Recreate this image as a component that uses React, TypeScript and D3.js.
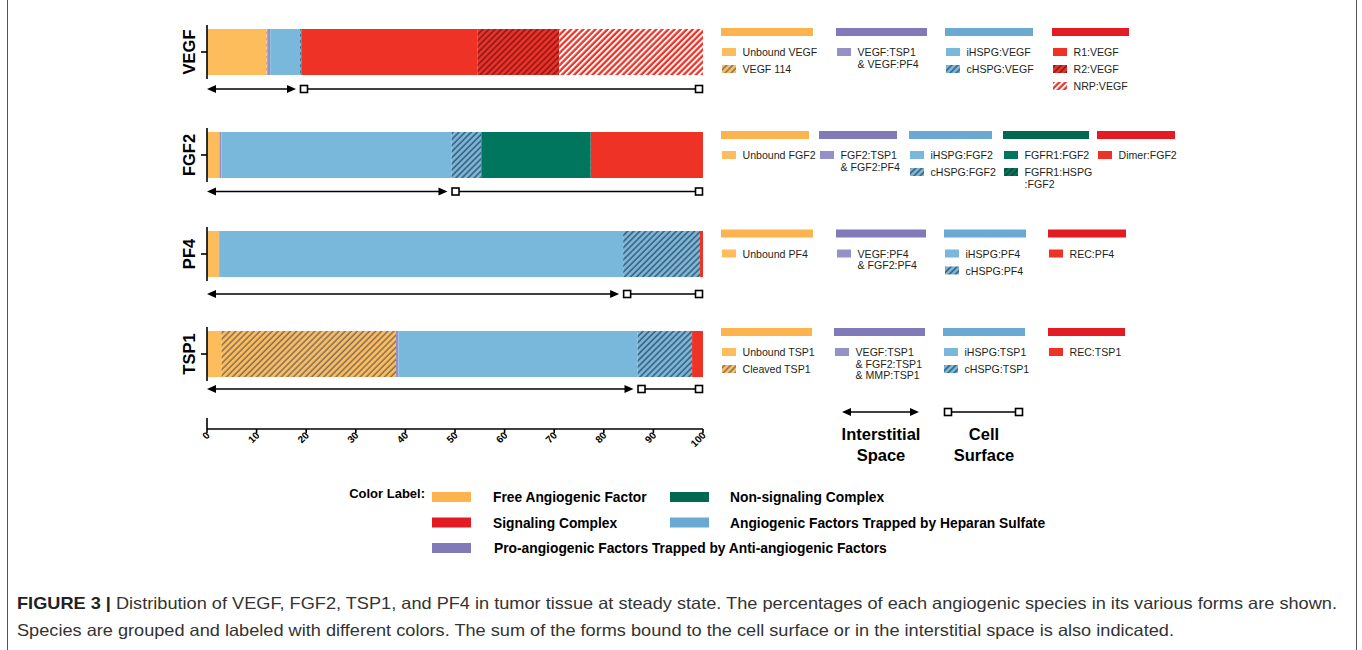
import React from "react";
import * as d3 from "d3";

// ---------- DATA ----------
const species = ["VEGF", "FGF2", "PF4", "TSP1"];

// segment values (% of each species), in stacking order
const vegfValues = [12, 0.15, 0.6, 6, 0.25, 35.5, 16.5, 29];
const vegfFills = ["orange", "orangeH", "purple", "blue", "blueH", "red", "redH", "redW"];
const vegfSites = ["I", "I", "I", "I", "C", "C", "C", "C"];

const fgf2Values = [2.5, 0.4, 46.4, 6, 22, 0.1, 22.6];
const fgf2Fills = ["orange", "purple", "blue", "blueH", "green", "greenH", "red"];
const fgf2Sites = ["I", "I", "I", "C", "C", "C", "C"];

const pf4Values = [2.4, 0.05, 81.45, 15.5, 0.6];
const pf4Fills = ["orange", "purple", "blue", "blueH", "red"];
const pf4Sites = ["I", "I", "I", "C", "C"];

const tsp1Values = [2.9, 35.2, 0.5, 48.2, 11, 2.2];
const tsp1Fills = ["orange", "orangeH", "purple", "blue", "blueH", "red"];
const tsp1Sites = ["I", "I", "I", "I", "C", "C"];

const axisTicks = [0, 10, 20, 30, 40, 50, 60, 70, 80, 90, 100];

// legend labels per species (columns -> items)
const vegfLegend = [["Unbound VEGF", "VEGF 114"], ["VEGF:TSP1\n& VEGF:PF4"], ["iHSPG:VEGF", "cHSPG:VEGF"], ["R1:VEGF", "R2:VEGF", "NRP:VEGF"]];
const vegfLegendFills = [["orange", "orangeH"], ["purple"], ["blue", "blueH"], ["red", "redH", "redW"]];
const vegfHeaders = ["orange", "purple", "blue", "red"];

const fgf2Legend = [["Unbound FGF2"], ["FGF2:TSP1\n& FGF2:PF4"], ["iHSPG:FGF2", "cHSPG:FGF2"], ["FGFR1:FGF2", "FGFR1:HSPG\n:FGF2"], ["Dimer:FGF2"]];
const fgf2LegendFills = [["orange"], ["purple"], ["blue", "blueH"], ["green", "greenH"], ["red"]];
const fgf2Headers = ["orange", "purple", "blue", "green", "red"];

const pf4Legend = [["Unbound PF4"], ["VEGF:PF4\n& FGF2:PF4"], ["iHSPG:PF4", "cHSPG:PF4"], ["REC:PF4"]];
const pf4LegendFills = [["orange"], ["purple"], ["blue", "blueH"], ["red"]];
const pf4Headers = ["orange", "purple", "blue", "red"];

const tsp1Legend = [["Unbound TSP1", "Cleaved TSP1"], ["VEGF:TSP1\n& FGF2:TSP1\n& MMP:TSP1"], ["iHSPG:TSP1", "cHSPG:TSP1"], ["REC:TSP1"]];
const tsp1LegendFills = [["orange", "orangeH"], ["purple"], ["blue", "blueH"], ["red"]];
const tsp1Headers = ["orange", "purple", "blue", "red"];

const colorLabels = ["Free Angiogenic Factor", "Non-signaling Complex", "Signaling Complex", "Angiogenic Factors Trapped by Heparan Sulfate", "Pro-angiogenic Factors Trapped by Anti-angiogenic Factors"];
const colorLabelKeys = ["orange", "green", "red", "blue", "purple"];

const captionBold = "FIGURE 3 |";
const captionLine1 = " Distribution of VEGF, FGF2, TSP1, and PF4 in tumor tissue at steady state. The percentages of each angiogenic species in its various forms are shown.";
const captionLine2 = "Species are grouped and labeled with different colors. The sum of the forms bound to the cell surface or in the interstitial space is also indicated.";

// ---------- STYLE ----------
const barColors: Record<string, string> = {
  orange: "#FEBD5C", purple: "#9591C8", blue: "#79B8DA", red: "#EE3226", green: "#00765E",
};
const headerColors: Record<string, string> = {
  orange: "#FDB44E", purple: "#8279B9", blue: "#69A9D2", red: "#E31B23", green: "#00684F",
};
const hatchDefs: Record<string, { base: string; line: string; w: number }> = {
  orangeH: { base: "#FEBD5C", line: "#7C6F63", w: 1.5 },
  blueH: { base: "#79B8DA", line: "#3E5D78", w: 1.6 },
  redH: { base: "#EE3226", line: "#8A1A1C", w: 1.7 },
  redW: { base: "#EE3226", line: "#FFFFFF", w: 2 },
  greenH: { base: "#00765E", line: "#1C3D36", w: 1.6 },
};
const fillOf = (k: string) => (hatchDefs[k] ? `url(#pat-${k})` : barColors[k]);

const FONT = "'Liberation Sans', Arial, Helvetica, sans-serif";

const speciesSegments = [
  { v: vegfValues, f: vegfFills, s: vegfSites },
  { v: fgf2Values, f: fgf2Fills, s: fgf2Sites },
  { v: pf4Values, f: pf4Fills, s: pf4Sites },
  { v: tsp1Values, f: tsp1Fills, s: tsp1Sites },
];
// layout: bar tops (px) and arrow offsets
const barTops = [29, 132, 231, 331];
const arrowOffsets = [60, 59.5, 63, 58];

const legendSets = [
  { labels: vegfLegend, fills: vegfLegendFills, headers: vegfHeaders, hy: 32, cols: [[721, 813], [836, 927], [945, 1033], [1052, 1129]] },
  { labels: fgf2Legend, fills: fgf2LegendFills, headers: fgf2Headers, hy: 135, cols: [[721, 809], [819, 897], [909, 992], [1003, 1089], [1097, 1175]] },
  { labels: pf4Legend, fills: pf4LegendFills, headers: pf4Headers, hy: 233.5, cols: [[721, 813], [836, 926], [944, 1026], [1048, 1126]] },
  { labels: tsp1Legend, fills: tsp1LegendFills, headers: tsp1Headers, hy: 332, cols: [[721, 812], [834, 925], [943, 1025], [1048, 1125]] },
];

function ArrowHead({ x, y, dir }: { x: number; y: number; dir: number }) {
  const L = 9, H = 4;
  return <path d={`M${x},${y} L${x - dir * L},${y - H} L${x - dir * L},${y + H} Z`} fill="#000" />;
}

function Square({ x, y }: { x: number; y: number }) {
  return <rect x={x - 3.5} y={y - 3.5} width={7} height={7} fill="#fff" stroke="#000" strokeWidth={1.6} />;
}

export default function App() {
  const x = d3.scaleLinear().domain([0, 100]).range([207, 703]);
  const yTop = d3.scaleOrdinal<string, number>().domain(species).range(barTops);
  const barH = 46;

  return (
    <svg width={1362} height={650} style={{ position: "absolute", left: 0, top: 0, background: "#fff" }} fontFamily={FONT}>
      <defs>
        {Object.entries(hatchDefs).map(([k, d]) => (
          <pattern key={k} id={`pat-${k}`} patternUnits="userSpaceOnUse" width={4.3} height={4.3} patternTransform="rotate(45)">
            <rect width={4.3} height={4.3} fill={d.base} />
            <line x1={1} y1={0} x2={1} y2={4.3} stroke={d.line} strokeWidth={d.w} />
          </pattern>
        ))}
      </defs>
      <rect x={0} y={0} width={1362} height={650} fill="#fff" />
      <rect x={7.5} y={-1} width={1349} height={653} fill="none" stroke="#555" strokeWidth={1} />

      {/* Bars */}
      {species.map((sp, i) => {
        const seg = speciesSegments[i];
        const ends = d3.cumsum(seg.v);
        const top = yTop(sp);
        const cy = top + barH / 2;
        const inter = d3.sum(seg.v.filter((_, j) => seg.s[j] === "I"));
        const ay = top + arrowOffsets[i];
        const bx = x(inter);
        return (
          <g key={sp}>
            {seg.v.map((v, j) => {
              const x0 = x(ends[j] - v);
              const x1 = x(ends[j]);
              return <rect key={j} x={x0} y={top} width={Math.max(0, x1 - x0)} height={barH} fill={fillOf(seg.f[j])} />;
            })}
            <line x1={207} x2={207} y1={top - 4} y2={top + barH + 4} stroke="#000" strokeWidth={1.6} />
            <line x1={201} x2={207} y1={cy} y2={cy} stroke="#000" strokeWidth={1.6} />
            <text transform={`translate(194.5,${cy}) rotate(-90)`} textAnchor="middle" fontSize={16.5} fontWeight="bold" fill="#000">{sp}</text>
            {/* interstitial arrow */}
            <line x1={x(0) + 4} x2={bx - 8} y1={ay} y2={ay} stroke="#000" strokeWidth={1.6} />
            <ArrowHead x={x(0)} y={ay} dir={-1} />
            <ArrowHead x={bx - 4} y={ay} dir={1} />
            {/* cell surface */}
            <line x1={bx + 4} x2={x(100) - 4} y1={ay} y2={ay} stroke="#000" strokeWidth={1.6} />
            <Square x={bx + 4} y={ay} />
            <Square x={x(100) - 4} y={ay} />
          </g>
        );
      })}

      {/* X axis */}
      <g>
        <line x1={207} x2={207} y1={418} y2={429} stroke="#000" strokeWidth={1.6} />
        <line x1={x(0)} x2={x(100)} y1={429} y2={429} stroke="#000" strokeWidth={1.6} />
        {axisTicks.map((t) => (
          <g key={t}>
            <line x1={x(t)} x2={x(t)} y1={429} y2={433} stroke="#000" strokeWidth={1.6} />
            <text transform={`translate(${x(t) + 3.5},${436}) rotate(-45)`} textAnchor="end" fontSize={10} fontWeight="bold" fill="#000">{t}</text>
          </g>
        ))}
      </g>

      {/* Right legends */}
      {legendSets.map((ls, gi) => (
        <g key={gi}>
          {ls.cols.map(([c0, c1], ci) => (
            <g key={ci}>
              <rect x={c0} y={ls.hy - 4} width={c1 - c0} height={8} fill={headerColors[ls.headers[ci]]} />
              {ls.labels[ci].map((lab, ri) => {
                const ry = ls.hy + 20 + ri * 17;
                const lines = lab.split("\n");
                return (
                  <g key={ri}>
                    <rect x={c0 + 1} y={ry - 4} width={14} height={8} fill={fillOf(ls.fills[ci][ri])} />
                    <text x={c0 + 21.5} y={ry + 4} fontSize={10.6} fill="#231F20">
                      {lines.map((ln, li) => (
                        <tspan key={li} x={c0 + 21.5} dy={li === 0 ? 0 : 11.7}>{ln}</tspan>
                      ))}
                    </text>
                  </g>
                );
              })}
            </g>
          ))}
        </g>
      ))}

      {/* Interstitial / Cell surface key */}
      <g>
        <line x1={846} x2={915} y1={412} y2={412} stroke="#000" strokeWidth={1.6} />
        <ArrowHead x={842} y={412} dir={-1} />
        <ArrowHead x={919} y={412} dir={1} />
        <line x1={948} x2={1019} y1={412} y2={412} stroke="#000" strokeWidth={1.6} />
        <Square x={948} y={412} />
        <Square x={1019} y={412} />
        <text x={881} y={440} textAnchor="middle" fontSize={16.5} fontWeight="bold" fill="#000">Interstitial</text>
        <text x={881} y={461} textAnchor="middle" fontSize={16.5} fontWeight="bold" fill="#000">Space</text>
        <text x={984} y={440} textAnchor="middle" fontSize={16.5} fontWeight="bold" fill="#000">Cell</text>
        <text x={984} y={461} textAnchor="middle" fontSize={16.5} fontWeight="bold" fill="#000">Surface</text>
      </g>

      {/* Color label legend */}
      <g fontWeight="bold" fontSize={13.8} fill="#000">
        <text x={425} y={498} textAnchor="end" fontSize={13}>Color Label:</text>
        {colorLabels.map((lab, i) => {
          const col = i < 4 ? i % 2 : 0;
          const row = Math.floor(i / 2);
          const sx = col === 0 ? 432 : 670;
          const tx = col === 0 ? 493 : 730;
          const cy = 497 + row * 25.5;
          return (
            <g key={lab}>
              <rect x={sx} y={cy - 5} width={39} height={10} fill={headerColors[colorLabelKeys[i]]} />
              <text x={i === 4 ? tx + 1 : tx} y={cy + 5}>{lab}</text>
            </g>
          );
        })}
      </g>

      {/* Caption */}
      <text x={17} y={609} fontSize={16.5} fill="#333" fontFamily="'Liberation Sans Narrow', 'Liberation Sans', Arial, sans-serif" textLength={1320} lengthAdjust="spacingAndGlyphs">
        <tspan fontWeight="bold" fill="#222">{captionBold}</tspan>
        <tspan>{captionLine1}</tspan>
      </text>
      <text x={17} y={636} fontSize={16.5} fill="#333" fontFamily="'Liberation Sans Narrow', 'Liberation Sans', Arial, sans-serif" textLength={1157} lengthAdjust="spacingAndGlyphs">
        {captionLine2}
      </text>
    </svg>
  );
}
